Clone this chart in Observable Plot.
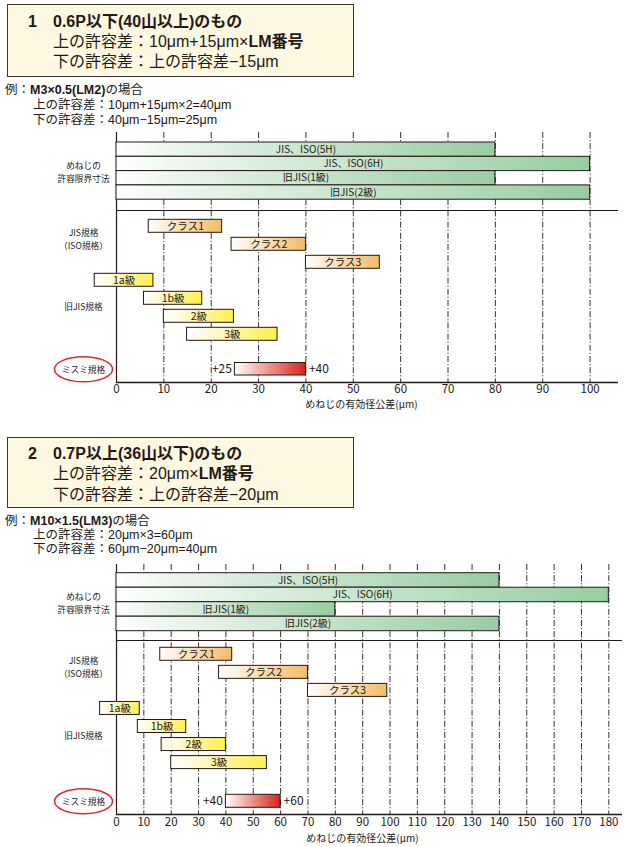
<!DOCTYPE html>
<html><head><meta charset="utf-8">
<script src="https://cdn.jsdelivr.net/npm/d3@7"></script>
<script src="https://cdn.jsdelivr.net/npm/@observablehq/plot@0.6"></script>
<style>
body{margin:0;background:#fff;font-family:"Noto Sans CJK JP","Noto Sans",sans-serif;color:#231815;}
#page{position:relative;width:625px;height:847px;overflow:hidden;}
.box{position:absolute;left:7px;width:347px;box-sizing:border-box;border:1.5px solid #3a3430;background:#fdf8e1;}
.h{position:absolute;font-size:16px;white-space:nowrap;font-family:"Liberation Sans","Noto Sans CJK JP",sans-serif;}
.e{position:absolute;font-size:12.5px;white-space:nowrap;font-family:"Liberation Sans","Noto Sans CJK JP",sans-serif;}
.b{font-weight:700;}
.chart{position:absolute;left:0;}
</style></head>
<body><div id="page"></div>
<script>
// ---------- data ----------
const limitNames = ["JIS、ISO(5H)", "JIS、ISO(6H)", "旧JIS(1級)", "旧JIS(2級)"];
const limitUpper1 = [80, 100, 80, 100];
const limitUpper2 = [140, 180, 80, 140];
const classNames = ["クラス1", "クラス2", "クラス3"];
const classLow1 = [6.8, 24.3, 40];
const classHigh1 = [22.3, 40, 55.6];
const classLow2 = [16, 37.5, 70];
const classHigh2 = [42.3, 70, 99];
const oldNames = ["1a級", "1b級", "2級", "3級"];
const oldLow1 = [-4.6, 5.8, 10, 14.9];
const oldHigh1 = [7.8, 18.1, 24.8, 34];
const oldLow2 = [-6, 7.8, 16.5, 20];
const oldHigh2 = [8.5, 25.5, 40, 55];
const misumi1 = [25, 40];
const misumi2 = [40, 60];
const xTicks1 = [0, 10, 20, 30, 40, 50, 60, 70, 80, 90, 100];
const xTicks2 = [0, 10, 20, 30, 40, 50, 60, 70, 80, 90, 100, 110, 120, 130, 140, 150, 160, 170, 180];
const groupLabels = ["めねじの\n許容限界寸法", "JIS規格\n（ISO規格）", "旧JIS規格", "ミスミ規格"];
const axisTitle = "めねじの有効径公差(μm)";
const header1 = ["1", "0.6P以下(40山以上)のもの", "上の許容差：10μm+15μm×<span class='b'>LM番号</span>", "下の許容差：上の許容差−15μm"];
const example1 = ["例：<span class='b'>M3×0.5(LM2)</span>の場合", "上の許容差：10μm+15μm×2=40μm", "下の許容差：40μm−15μm=25μm"];
const header2 = ["2", "0.7P以上(36山以下)のもの", "上の許容差：20μm×<span class='b'>LM番号</span>", "下の許容差：上の許容差−20μm"];
const example2 = ["例：<span class='b'>M10×1.5(LM3)</span>の場合", "上の許容差：20μm×3=60μm", "下の許容差：60μm−20μm=40μm"];

// ---------- page text ----------
const page = document.getElementById("page");
function addHeader(lines, ex, boxTop, boxH, h0, hStep, e0, eStep) {
  const box = document.createElement("div");
  box.className = "box"; box.style.top = boxTop + "px"; box.style.height = boxH + "px";
  page.appendChild(box);
  const num = document.createElement("div");
  num.className = "h b"; num.innerHTML = lines[0];
  num.style.left = "28px"; num.style.top = (h0 - hStep / 2) + "px"; num.style.lineHeight = hStep + "px";
  page.appendChild(num);
  const head = document.createElement("div");
  head.className = "h"; head.innerHTML = `<span class="b">${lines[1]}</span><br>${lines[2]}<br>${lines[3]}`;
  head.style.left = "53px"; head.style.top = (h0 - hStep / 2) + "px"; head.style.lineHeight = hStep + "px";
  page.appendChild(head);
  const exd = document.createElement("div");
  exd.className = "e"; exd.innerHTML = ex.join("<br>");
  exd.style.left = "33px"; exd.style.textIndent = "-28px";
  exd.style.top = (e0 - eStep / 2) + "px"; exd.style.lineHeight = eStep + "px";
  page.appendChild(exd);
}
addHeader(header1, example1, 4, 73, 21.5, 20, 90.5, 14.7);
addHeader(header2, example2, 437, 71, 454, 20.5, 521, 14.2);

// ---------- charts ----------
const ink = "#231815";
const ellipse = {
  draw(ctx) {
    const rx = 29, ry = 12.5, k = 0.5523;
    ctx.moveTo(rx, 0);
    ctx.bezierCurveTo(rx, ry * k, rx * k, ry, 0, ry);
    ctx.bezierCurveTo(-rx * k, ry, -rx, ry * k, -rx, 0);
    ctx.bezierCurveTo(-rx, -ry * k, -rx * k, -ry, 0, -ry);
    ctx.bezierCurveTo(rx * k, -ry, rx, -ry * k, rx, 0);
    ctx.closePath();
  }
};
const grads = {
  green: [[0, "#ffffff"], [0.18, "#e8f4ea"], [1, "#98cda2"]],
  orange: [[0, "#ffffff"], [0.2, "#fdf1df"], [1, "#f3bb68"]],
  yellow: [[0, "#ffffff"], [0.2, "#fffbe0"], [1, "#fff04c"]],
  red: [[0, "#ffffff"], [1, "#dc2218"]]
};

function makeChart(cfg) {
  const {id, xMax, ticks, upper, cLo, cHi, oLo, oHi, mis, L, height, mb, tickPad, titleDy, titleDx} = cfg;
  const limits = limitNames.map((name, i) => ({name, lo: 0, hi: upper[i], y1: L.gTop + i * L.gStep, y2: L.gTop + (i + 1) * L.gStep}));
  const classes = classNames.map((name, i) => ({name, lo: cLo[i], hi: cHi[i]}));
  const olds = oldNames.map((name, i) => ({name, lo: oLo[i], hi: oHi[i]}));
  [...classes, ...olds].forEach((d, i) => { d.y1 = L.cTop + i * L.cStep; d.y2 = d.y1 + L.cH; });
  const misRow = [{lo: mis[0], hi: mis[1], y1: L.mTop, y2: L.mTop + L.mH}];
  const ctr = d => (d.y1 + d.y2) / 2;
  const gCenter = (limits[0].y1 + limits[3].y2) / 2;
  const jisCenter = (ctr(classes[0]) + ctr(classes[1])) / 2 + 3;
  const oldCenter = (ctr(olds[0]) + ctr(olds[3])) / 2 - 1;
  const groups = [
    {t: groupLabels[0], y: gCenter},
    {t: groupLabels[1], y: jisCenter},
    {t: groupLabels[2], y: oldCenter},
    {t: groupLabels[3], y: ctr(misRow[0])}
  ];
  const defs = () => {
    const d = d3.create("svg:defs");
    for (const [k, stops] of Object.entries(grads)) {
      const g = d.append("linearGradient").attr("id", id + "-" + k)
        .attr("x1", 0).attr("x2", 1).attr("y1", 0).attr("y2", 0);
      for (const [o, c] of stops) g.append("stop").attr("offset", o).attr("stop-color", c);
    }
    return d.node();
  };
  const barStyle = {x1: "lo", x2: "hi", y1: "y1", y2: "y2", stroke: ink, strokeWidth: 1};
  const label = (data, fs) => Plot.text(data, {x: d => (d.lo + d.hi) / 2, y: ctr, text: "name", fontSize: fs, fill: ink});
  return Plot.plot({
    width: 625, height,
    marginTop: 10, marginBottom: mb, marginLeft: 116, marginRight: cfg.mr,
    x: {domain: [0, xMax]},
    y: {domain: [0, 250], reverse: true, axis: null},
    style: {fontFamily: '"Noto Sans CJK JP", "Noto Sans", sans-serif', color: ink, background: "transparent", overflow: "visible"},
    marks: [
      defs,
      Plot.ruleX(ticks.slice(1), {stroke: ink, strokeWidth: 0.9, strokeDasharray: "6,2,1.2,2"}),
      Plot.ruleX([0], {stroke: ink, strokeWidth: 1.2}),
      Plot.ruleY([L.sep], {stroke: ink, strokeWidth: 1.2}),
      Plot.ruleY([250], {stroke: ink, strokeWidth: 1.3}),
      Plot.rect(limits, {...barStyle, fill: `url(#${id}-green)`}),
      label(limits, 10),
      Plot.rect(classes, {...barStyle, fill: `url(#${id}-orange)`}),
      label(classes, 10.5),
      Plot.rect(olds, {...barStyle, fill: `url(#${id}-yellow)`}),
      label(olds, 10.5),
      Plot.rect(misRow, {...barStyle, fill: `url(#${id}-red)`}),
      Plot.text(misRow, {x: "lo", y: ctr, text: d => "+" + d.lo, textAnchor: "end", dx: -3, fontSize: 12, fill: ink}),
      Plot.text(misRow, {x: "hi", y: ctr, text: d => "+" + d.hi, textAnchor: "start", dx: 3, fontSize: 12, fill: ink}),
      Plot.text(groups, {frameAnchor: "left", dx: -33, y: "y", text: "t", textAnchor: "middle", lineHeight: 1.46, fontSize: 8.7, fill: ink}),
      Plot.dot([groups[3]], {frameAnchor: "left", dx: -33, y: "y", symbol: ellipse, stroke: "#e0262b", strokeWidth: 1.5, fill: "none"}),
      Plot.axisX(ticks, {tickSize: 0, tickPadding: tickPad, fontSize: 11.5, label: null, fill: ink}),
      Plot.text([axisTitle], {frameAnchor: "bottom", dy: titleDy, dx: titleDx, textAnchor: "middle", lineAnchor: "middle", fontSize: 10, fill: ink})
    ]
  });
}

const c1 = makeChart({
  id: "c1", xMax: 106, ticks: xTicks1, upper: limitUpper1, cLo: classLow1, cHi: classHigh1,
  oLo: oldLow1, oHi: oldHigh1, mis: misumi1, mr: 7, height: 295, mb: 35, tickPad: 2, titleDy: 22, titleDx: -6,
  L: {gTop: 10, gStep: 14.3, sep: 78, cTop: 87.3, cStep: 18, cH: 13, mTop: 230.5, mH: 12.5}
});
c1.classList.add("chart"); c1.style.top = "122px";
page.appendChild(c1);

const c2 = makeChart({
  id: "c2", xMax: 185, ticks: xTicks2, upper: limitUpper2, cLo: classLow2, cHi: classHigh2,
  oLo: oldLow2, oHi: oldHigh2, mis: misumi2, mr: 3, height: 293, mb: 33, tickPad: 3, titleDy: 24, titleDx: -7,
  L: {gTop: 8.7, gStep: 14.5, sep: 76, cTop: 83.3, cStep: 18.05, cH: 13, mTop: 230.3, mH: 13}
});
c2.classList.add("chart"); c2.style.top = "554px";
page.appendChild(c2);
</script></body></html>
